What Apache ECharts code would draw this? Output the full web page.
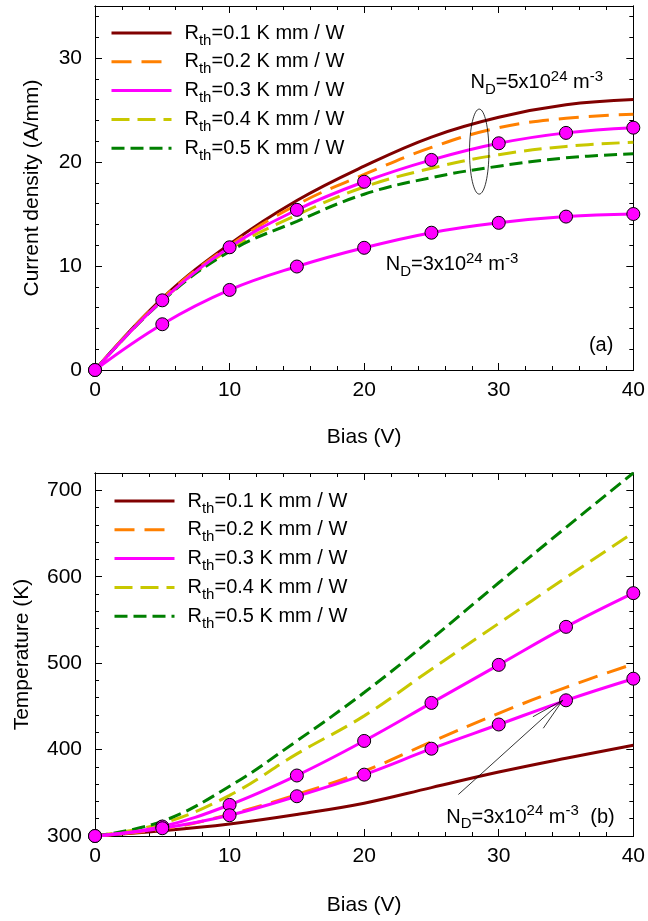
<!DOCTYPE html>
<html><head><meta charset="utf-8">
<script src="https://cdn.jsdelivr.net/npm/echarts@6/dist/echarts.min.js"></script>
<style>html,body{margin:0;padding:0;background:#fff}#c{width:648px;height:921px}</style>
</head><body><div id="c"></div>
<script>
// ---- data ----
const bias = [0, 5, 10, 15, 20, 25, 30, 35, 40];
const seriesNames = ['Rth=0.1 K mm / W', 'Rth=0.2 K mm / W', 'Rth=0.3 K mm / W', 'Rth=0.4 K mm / W', 'Rth=0.5 K mm / W'];
// (a) current density, ND = 5e24
const J_r01 = [0, 6.9, 12.1, 16.3, 19.6, 22.4, 24.3, 25.5, 26.0];
const J_r02 = [0, 6.85, 11.95, 15.9, 18.8, 21.4, 23.3, 24.2, 24.6];
const J_r03 = [0, 6.7, 11.8, 15.4, 18.1, 20.2, 21.8, 22.8, 23.3];
const J_r04 = [0, 6.7, 11.6, 14.9, 17.6, 19.4, 20.7, 21.5, 21.9];
const J_r05 = [0, 6.65, 11.4, 14.3, 16.9, 18.5, 19.6, 20.4, 20.8];
// (a) ND = 3e24, Rth = 0.3
const J_nd3 = [0, 4.4, 7.7, 9.95, 11.75, 13.2, 14.15, 14.75, 15.0];
// (b) temperature, ND = 5e24
const T_r01 = [300, 306, 314, 325, 338, 356, 374, 390, 405];
const T_r02 = [300, 308, 325, 348, 375, 409, 442, 472, 499];
const T_r03 = [300, 311, 336, 370, 410, 454, 498, 542, 581];
const T_r04 = [300, 314.6, 347, 395, 439, 493, 546, 599, 651];
const T_r05 = [300, 317, 357.5, 410, 466, 528, 593, 657, 720];
// (b) ND = 3e24, Rth = 0.3
const T_nd3 = [300, 309, 324, 346, 371, 401, 429, 457, 482];
// axis ticks
const xTicksMajor = 10, xTicksMinor = 2;
const jAxis = {min: 0, max: 35, major: 10, minor: 2};
const tAxis = {min: 300, max: 720, major: 100, minor: 20};
const xRange = {min: 0, max: 40};

// ---- styles ----
const FONT = "'Liberation Sans', Arial, sans-serif";
const colors = ['#800000', '#ff8000', '#ff00ff', '#c8c800', '#008000'];
const dashes = ['solid', [20, 10], 'solid', [18, 8], [13, 6]];

function pairs(xs, ys) { return xs.map((x, i) => [x, ys[i]]); }

function makeX(gi, name, nameGap) {
  const base = {type: 'value', gridIndex: gi, min: xRange.min, max: xRange.max, splitLine: {show: false},
    axisLine: {show: true, onZero: false, lineStyle: {color: '#000', width: 1}}};
  return [
    Object.assign({}, base, {position: 'bottom', interval: xTicksMajor,
      axisTick: {show: true, inside: true, length: 7, lineStyle: {color: '#000'}},
      axisLabel: {show: true, color: '#000', fontSize: 21, fontFamily: FONT, margin: 10, showMaxLabel: true},
      name: name, nameLocation: 'middle', nameGap: nameGap,
      nameTextStyle: {color: '#000', fontSize: 21, fontFamily: FONT}}),
    Object.assign({}, base, {position: 'bottom', interval: xTicksMinor,
      axisTick: {show: true, inside: true, length: 4, lineStyle: {color: '#000'}}, axisLabel: {show: false}}),
    Object.assign({}, base, {position: 'top', interval: xTicksMajor,
      axisTick: {show: true, inside: true, length: 7, lineStyle: {color: '#000'}}, axisLabel: {show: false}}),
    Object.assign({}, base, {position: 'top', interval: xTicksMinor,
      axisTick: {show: true, inside: true, length: 4, lineStyle: {color: '#000'}}, axisLabel: {show: false}})
  ];
}
function makeY(gi, ax, name, nameGap) {
  const base = {type: 'value', gridIndex: gi, min: ax.min, max: ax.max, splitLine: {show: false},
    axisLine: {show: true, onZero: false, lineStyle: {color: '#000', width: 1}}};
  return [
    Object.assign({}, base, {position: 'left', interval: ax.major,
      axisTick: {show: true, inside: true, length: 7, lineStyle: {color: '#000'}},
      axisLabel: {show: true, color: '#000', fontSize: 21, fontFamily: FONT, margin: 13, showMaxLabel: false},
      name: name, nameLocation: 'middle', nameGap: nameGap,
      nameTextStyle: {color: '#000', fontSize: 21, fontFamily: FONT}}),
    Object.assign({}, base, {position: 'left', interval: ax.minor,
      axisTick: {show: true, inside: true, length: 4, lineStyle: {color: '#000'}}, axisLabel: {show: false}}),
    Object.assign({}, base, {position: 'right', interval: ax.major,
      axisTick: {show: true, inside: true, length: 7, lineStyle: {color: '#000'}}, axisLabel: {show: false}}),
    Object.assign({}, base, {position: 'right', interval: ax.minor,
      axisTick: {show: true, inside: true, length: 4, lineStyle: {color: '#000'}}, axisLabel: {show: false}})
  ];
}

function lineSeries(gi, name, ys, idx) {
  return {type: 'line', name: name, xAxisIndex: gi * 4, yAxisIndex: gi * 4, data: pairs(bias, ys),
    smooth: 0.4, symbol: 'none', showSymbol: false, z: 2 + (idx === 2 ? 1 : 0),
    lineStyle: {color: colors[idx], width: 3, type: dashes[idx], cap: 'butt'},
    itemStyle: {color: colors[idx]}, emphasis: {disabled: true}, animation: false};
}
function markerSeries(gi, ys) {
  return {type: 'scatter', name: 'markers' + gi, xAxisIndex: gi * 4, yAxisIndex: gi * 4, data: pairs(bias, ys),
    symbol: 'circle', symbolSize: 13, z: 5,
    itemStyle: {color: '#ff00ff', borderColor: '#000', borderWidth: 1, opacity: 1},
    emphasis: {disabled: true}, animation: false};
}

const J_sets = [J_r01, J_r02, J_r03, J_r04, J_r05];
const T_sets = [T_r01, T_r02, T_r03, T_r04, T_r05];
const series = [];
J_sets.forEach((ys, i) => series.push(lineSeries(0, seriesNames[i], ys, i)));
series.push(lineSeries(0, 'ND3a', J_nd3, 2));
series.push(markerSeries(0, J_r03));
series.push(markerSeries(0, J_nd3));
T_sets.forEach((ys, i) => series.push(lineSeries(1, seriesNames[i], ys, i)));
series.push(lineSeries(1, 'ND3b', T_nd3, 2));
series.push(markerSeries(1, T_r03));
series.push(markerSeries(1, T_nd3));

const legendRich = {
  r: {fontSize: 20, fontFamily: FONT, color: '#000', lineHeight: 30, padding: [0, 0, 0, 8]},
  s: {fontSize: 15, fontFamily: FONT, color: '#000', lineHeight: 15, verticalAlign: 'bottom'},
  a: {fontSize: 20, fontFamily: FONT, color: '#000', lineHeight: 30}
};
function makeLegend(left, top) {
  return {data: seriesNames, orient: 'vertical', left: left, top: top, padding: 0,
    itemWidth: 60, itemHeight: 14, itemGap: 3.8, selectedMode: false,
    lineStyle: {width: 3},
    itemStyle: {opacity: 0, borderWidth: 0},
    formatter: n => '{r|R}{s|th}{a|' + n.slice(3) + '}',
    textStyle: {rich: legendRich}};
}

const chart = echarts.init(document.getElementById('c'), null, {renderer: 'canvas'});
const option = {
  animation: false,
  backgroundColor: '#fff',
  grid: [
    {left: 95, right: 12, top: 6, height: 364, containLabel: false},
    {left: 95, right: 12, top: 473, height: 363, containLabel: false}
  ],
  xAxis: makeX(0, 'Bias (V)', 57).concat(makeX(1, 'Bias (V)', 59)),
  yAxis: makeY(0, jAxis, 'Current density (A/mm)', 52).concat(makeY(1, tAxis, 'Temperature (K)', 62)),
  legend: [makeLegend(110, 23), makeLegend(113, 491)],
  series: series
};
chart.setOption(option);

// ---- annotations, positioned in data coordinates ----
const annRich = {
  a: {fontSize: 20, fontFamily: FONT, fill: '#000', lineHeight: 28},
  sub: {fontSize: 15, fontFamily: FONT, fill: '#000', lineHeight: 15, verticalAlign: 'bottom'},
  sup: {fontSize: 15, fontFamily: FONT, fill: '#000', lineHeight: 15, verticalAlign: 'top'}
};
function ndText(v) { return '{a|N}{sub|D}{a|=' + v + 'x10}{sup|24}{a| m}{sup|-3}'; }
const P = (gi, x, y) => chart.convertToPixel({xAxisIndex: gi * 4, yAxisIndex: gi * 4}, [x, y]);

const pEll = P(0, 28.55, 21.0);
const pNd5 = P(0, 27.9, 27.6);
const pNd3a = P(0, 21.6, 10.1);
const pA = P(0, 36.7, 2.4);
const pNd3b = P(1, 26.1, 322);
const pB = P(1, 36.8, 322);
const arrFrom = P(1, 27.0, 348);
const arrTo = P(1, 34.75, 457);
const ang = Math.atan2(arrFrom[1] - arrTo[1], arrFrom[0] - arrTo[0]);
const hl = 34, ha = 0.23;
const h1 = [arrTo[0] + hl * Math.cos(ang + ha), arrTo[1] + hl * Math.sin(ang + ha)];
const h2 = [arrTo[0] + hl * Math.cos(ang - ha), arrTo[1] + hl * Math.sin(ang - ha)];

function txt(p, t) {
  return {type: 'text', x: p[0], y: p[1], z: 10,
    style: {text: t, rich: annRich, fontSize: 20, fontFamily: FONT, fill: '#000', align: 'left', verticalAlign: 'middle'}};
}
chart.setOption({graphic: [
  {type: 'ellipse', shape: {cx: pEll[0], cy: pEll[1], rx: 9.7, ry: 42.5}, z: 10,
    style: {fill: 'none', stroke: '#000', lineWidth: 0.8}},
  txt(pNd5, ndText(5)),
  txt(pNd3a, ndText(3)),
  txt(pA, '{a|(a)}'),
  txt(pNd3b, ndText(3)),
  txt(pB, '{a|(b)}'),
  {type: 'line', shape: {x1: arrFrom[0], y1: arrFrom[1], x2: arrTo[0], y2: arrTo[1]}, z: 10,
    style: {stroke: '#000', lineWidth: 0.8}},
  {type: 'polyline', shape: {points: [h1, arrTo, h2]}, z: 10,
    style: {stroke: '#000', lineWidth: 0.8, fill: 'none'}}
]});
</script>
</body></html>
